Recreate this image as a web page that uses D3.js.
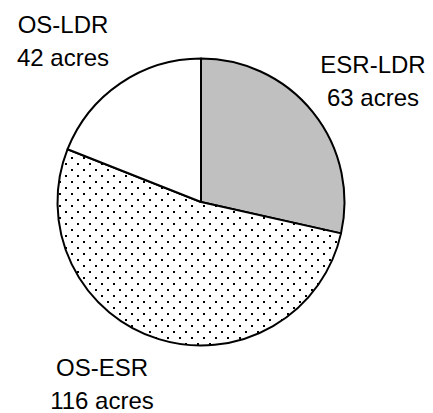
<!DOCTYPE html>
<html>
<head>
<meta charset="utf-8">
<script src="https://cdn.jsdelivr.net/npm/d3@7"></script>
<style>
  html, body { margin: 0; padding: 0; background: #fff; }
  svg { display: block; }
  text { font-family: "Liberation Sans", Arial, sans-serif; fill: #000; }
</style>
</head>
<body>
<svg id="chart" width="433" height="413"></svg>
<script>
// Land-use conversion areas
const categories = ["ESR-LDR", "OS-ESR", "OS-LDR"];
const acres = [63, 116, 42];
const unitLabel = "acres";

const width = 433, height = 413;
const cx = 201, cy = 202, radius = 143.5;

const svg = d3.select("#chart");

// Dot texture for the OS-ESR slice (pixel-aligned 2x2 dots)
const defs = svg.append("defs");
const pat = defs.append("pattern")
  .attr("id", "dots")
  .attr("patternUnits", "userSpaceOnUse")
  .attr("x", 2).attr("y", 3)
  .attr("width", 12).attr("height", 12);
pat.append("rect").attr("width", 12).attr("height", 12).attr("fill", "#fff");
pat.append("rect").attr("x", 0).attr("y", 0).attr("width", 2).attr("height", 2).attr("fill", "#000");
pat.append("rect").attr("x", 6).attr("y", 6).attr("width", 2).attr("height", 2).attr("fill", "#000");

const fills = d3.scaleOrdinal()
  .domain(categories)
  .range(["#c0c0c0", "url(#dots)", "#ffffff"]);

const data = categories.map((c, i) => ({ name: c, value: acres[i] }));

const pie = d3.pie().sort(null).value(d => d.value).startAngle(0).endAngle(2 * Math.PI);
const arc = d3.arc().innerRadius(0).outerRadius(radius);

const g = svg.append("g").attr("transform", `translate(${cx},${cy})`);

g.selectAll("path.slice")
  .data(pie(data))
  .join("path")
  .attr("class", "slice")
  .attr("d", arc)
  .attr("fill", d => fills(d.data.name))
  .attr("stroke", "#000")
  .attr("stroke-width", 2)
  .attr("stroke-linejoin", "round");

// Two-line labels set outside each slice
const labelPos = {
  "ESR-LDR": [373, 73],
  "OS-ESR": [102, 376],
  "OS-LDR": [63, 33]
};
const lineGap = 33;

const labels = svg.selectAll("g.label")
  .data(data)
  .join("g")
  .attr("class", "label")
  .attr("transform", d => `translate(${labelPos[d.name][0]},${labelPos[d.name][1]})`);

labels.append("text")
  .attr("text-anchor", "middle")
  .attr("font-size", 24)
  .text(d => d.name);

labels.append("text")
  .attr("text-anchor", "middle")
  .attr("font-size", 24)
  .attr("y", lineGap)
  .text(d => `${d.value} ${unitLabel}`);
</script>
</body>
</html>
